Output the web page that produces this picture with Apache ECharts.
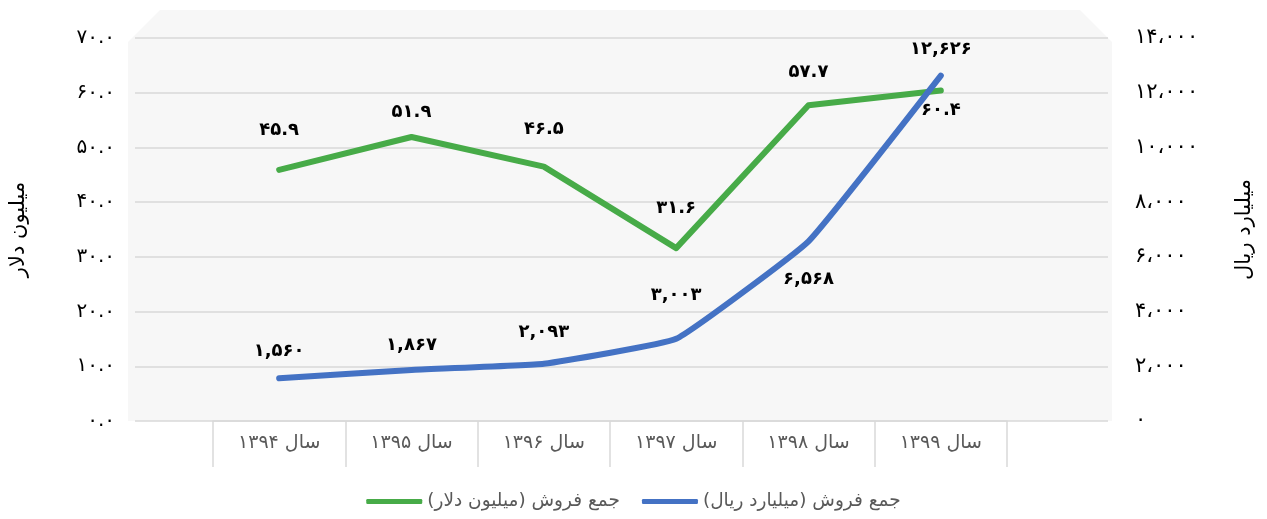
<!DOCTYPE html>
<html>
<head>
<meta charset="utf-8">
<script src="https://cdn.jsdelivr.net/npm/echarts@6/dist/echarts.min.js"></script>
<style>
  html, body { margin: 0; padding: 0; background: #fff; }
  #main { width: 1267px; height: 519px; }
</style>
</head>
<body>
<div id="main"></div>
<script>
// داده‌ها
var years = ['سال ۱۳۹۴', 'سال ۱۳۹۵', 'سال ۱۳۹۶', 'سال ۱۳۹۷', 'سال ۱۳۹۸', 'سال ۱۳۹۹'];
var salesDollar = [45.9, 51.9, 46.5, 31.6, 57.7, 60.4];
var salesRial = [1560, 1867, 2093, 3003, 6568, 12626];
var nameDollar = 'جمع فروش (میلیون دلار)';
var nameRial = 'جمع فروش (میلیارد ریال)';

// جای برچسب‌ها نسبت به نقطه (پیکسل)
var dollarLabelDy = [-40, -25, -37, -40, -33, 20];
var rialLabelDy = [-27, -25, -31, -44, 38, -26];

var FONT = '"DejaVu Sans", sans-serif';

function fa(s) {
  return String(s).replace(/\d/g, function (d) { return '۰۱۲۳۴۵۶۷۸۹'[d]; });
}
function withComma(v, sep) {
  return String(v).replace(/\B(?=(\d{3})+(?!\d))/g, sep);
}

function buildData(values, dys, fmt) {
  return values.map(function (v, i) {
    return {
      value: v,
      label: { position: 'inside', offset: [0, dys[i]], formatter: fmt(v) }
    };
  });
}

var chart = echarts.init(document.getElementById('main'));

var labelStyle = {
  show: true,
  color: '#000',
  fontSize: 18,
  fontWeight: 'bold',
  fontFamily: FONT
};

var option = {
  animation: false,
  graphic: [{
    type: 'polygon',
    z: -10,
    shape: { points: [[160, 10], [1080, 10], [1112, 42], [1112, 421], [128, 421], [128, 42]] },
    style: { fill: '#f7f7f7' }
  }],
  legend: {
    bottom: 3,
    left: 'center',
    itemWidth: 56,
    itemHeight: 5,
    itemGap: 22,
    icon: 'roundRect',
    textStyle: { color: '#595959', fontSize: 18.5, fontFamily: FONT },
    data: [nameDollar, nameRial]
  },
  grid: [
    { left: 128, right: 159, top: 38, bottom: 98 },
    { left: 213, right: 260, top: 38, bottom: 98 }
  ],
  xAxis: [
    { type: 'value', gridIndex: 0, show: false, min: 0, max: 1 },
    {
      type: 'category',
      gridIndex: 1,
      data: years,
      boundaryGap: true,
      axisLine: { show: true, lineStyle: { color: '#d9d9d9', width: 1.5 } },
      axisTick: { show: true, interval: 0, length: 46, lineStyle: { color: '#d9d9d9', width: 1.5 } },
      axisLabel: { interval: 0, margin: 13, color: '#595959', fontSize: 19, fontFamily: FONT },
      splitLine: { show: false }
    }
  ],
  yAxis: [
    {
      type: 'value', gridIndex: 0, position: 'left',
      min: 0, max: 70, interval: 10,
      name: 'میلیون دلار', nameLocation: 'middle', nameGap: 106, nameRotate: 90,
      nameTextStyle: { color: '#000', fontSize: 21, fontFamily: FONT },
      axisLine: { show: false }, axisTick: { show: false },
      axisLabel: { margin: 20, color: '#000', fontSize: 20, fontFamily: FONT,
        formatter: function (v) { return fa(v.toFixed(1)); } },
      splitLine: { show: true, lineStyle: { color: '#d9d9d9', width: 1.5 } }
    },
    {
      type: 'value', gridIndex: 0, position: 'right',
      min: 0, max: 14000, interval: 2000,
      name: 'میلیارد ریال', nameLocation: 'middle', nameGap: 126, nameRotate: 90,
      nameTextStyle: { color: '#000', fontSize: 21, fontFamily: FONT },
      axisLine: { show: false }, axisTick: { show: false },
      axisLabel: { margin: 27, color: '#000', fontSize: 21, fontFamily: FONT,
        formatter: function (v) { return fa(withComma(v, '،')); } },
      splitLine: { show: false }
    },
    { type: 'value', gridIndex: 1, min: 0, max: 70, show: false },
    { type: 'value', gridIndex: 1, min: 0, max: 14000, show: false }
  ],
  series: [
    {
      name: nameDollar,
      type: 'line',
      xAxisIndex: 1,
      yAxisIndex: 2,
      symbol: 'circle',
      symbolSize: 2,
      color: '#47ab48',
      lineStyle: { width: 6, cap: 'round', join: 'round' },
      label: labelStyle,
      data: buildData(salesDollar, dollarLabelDy, function (v) { return fa(v.toFixed(1)); })
    },
    {
      name: nameRial,
      type: 'line',
      xAxisIndex: 1,
      yAxisIndex: 3,
      smooth: 0.1,
      symbol: 'circle',
      symbolSize: 2,
      color: '#4472c4',
      lineStyle: { width: 6, cap: 'round', join: 'round' },
      label: labelStyle,
      data: buildData(salesRial, rialLabelDy, function (v) { return fa(withComma(v, ',')); })
    }
  ]
};

chart.setOption(option);
</script>
</body>
</html>
